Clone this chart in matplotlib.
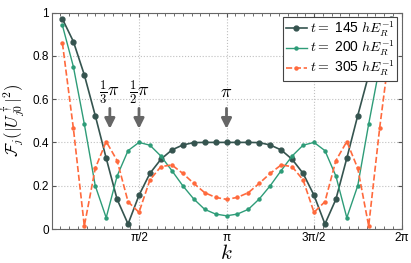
import numpy as np
import matplotlib.pyplot as plt
from matplotlib.ticker import MultipleLocator

# momentum index n, k = n*pi/16
n = np.arange(1, 32)
k = n * np.pi / 16

# F_j values (symmetric about k = pi)
half_145 = [0.97, 0.866, 0.712, 0.524, 0.327, 0.137, 0.023, 0.156, 0.257, 0.322,
            0.365, 0.388, 0.399, 0.40, 0.40, 0.40]
half_200 = [0.94, 0.75, 0.485, 0.20, 0.052, 0.245, 0.362, 0.40, 0.387, 0.337,
            0.27, 0.20, 0.139, 0.091, 0.069, 0.061]
half_305 = [0.858, 0.465, 0.014, 0.28, 0.404, 0.316, 0.126, 0.077, 0.227, 0.288,
            0.296, 0.257, 0.211, 0.168, 0.146, 0.137]

F145 = half_145 + half_145[-2::-1]
F200 = half_200 + half_200[-2::-1]
F305 = half_305 + half_305[-2::-1]

labels = [r'$t =$ 145 $hE_R^{-1}$', r'$t =$ 200 $hE_R^{-1}$', r'$t =$ 305 $hE_R^{-1}$']
arrow_pos = [np.pi / 3, np.pi / 2, np.pi]
arrow_txt = [r'$\frac{1}{3}\pi$', r'$\frac{1}{2}\pi$', r'$\pi$']

c_dark = '#35544f'
c_green = '#2e9c78'
c_orange = '#ff6a3d'

plt.rcParams['font.family'] = ['Liberation Sans', 'DejaVu Sans']
plt.rcParams['mathtext.fontset'] = 'cm'
fig = plt.figure(figsize=(4.11, 2.63), dpi=100)
ax = fig.add_axes([51.5 / 411, 1 - 229 / 263, 350 / 411, 216.5 / 263])

ax.plot(k, F145, '-o', color=c_dark, lw=1.2, ms=3.5, label=labels[0])
ax.plot(k, F200, '-o', color=c_green, lw=1.0, ms=2.2, label=labels[1])
ax.plot(k, F305, '--o', color=c_orange, lw=1.2, ms=2.2, label=labels[2])

for x, s in zip(arrow_pos, arrow_txt):
    ax.annotate('', xy=(x, 0.45), xytext=(x, 0.57),
                arrowprops=dict(arrowstyle='-|>,head_width=0.3,head_length=0.6',
                                color='#666666', lw=2.0))
    ax.text(x, 0.63, s, ha='center', va='center', fontsize=13)

ax.set_xlim(0, 2 * np.pi)
ax.set_ylim(0, 1)
ax.set_xticks([np.pi / 2, np.pi, 3 * np.pi / 2, 2 * np.pi])
ax.set_xticklabels(['π/2', 'π', '3π/2', '2π'])
ax.set_yticks([0, 0.2, 0.4, 0.6, 0.8, 1])
ax.set_yticklabels(['0', '0.2', '0.4', '0.6', '0.8', '1'])
ax.xaxis.set_minor_locator(MultipleLocator(np.pi / 20))
ax.tick_params(which='both', direction='in', top=True, right=True, colors='#555555',
               labelcolor='black', labelsize=8.5, pad=2)
ax.tick_params(which='major', length=3)
ax.tick_params(which='minor', length=2)
ax.grid(True, ls=':', color='#c0c0c0', lw=0.8)
for sp in ax.spines.values():
    sp.set_color('#666666')

ax.set_xlabel(r'$k$', fontsize=15, labelpad=0)
ax.set_ylabel(r'$\mathcal{F}_j(|U^\dagger_{j0}|^2)$', fontsize=12, labelpad=3)

leg = ax.legend(loc='upper right', fontsize=10, handlelength=1.5, handletextpad=0.2,
                borderpad=0.2, labelspacing=0.05, fancybox=False, framealpha=1,
                borderaxespad=0.3)
leg.get_frame().set_edgecolor('#444444')
leg.get_frame().set_linewidth(0.8)

fig.savefig('out.png', dpi=100)
